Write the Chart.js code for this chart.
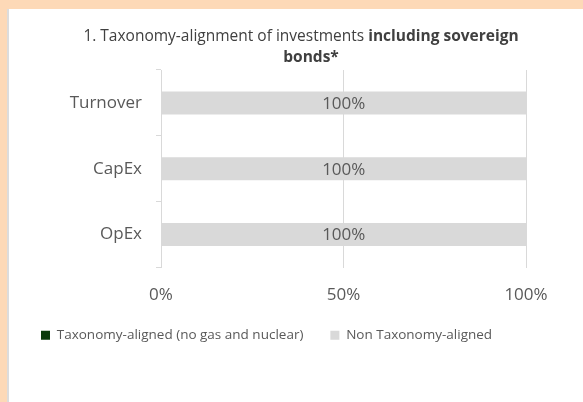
<!DOCTYPE html>
<html>
<head>
<meta charset="utf-8">
<script src="https://cdn.jsdelivr.net/npm/chart.js@4.4.0/dist/chart.umd.min.js"></script>
<style>
  html, body { margin: 0; padding: 0; }
  body { width: 583px; height: 402px; background: #fdd9b7; position: relative; overflow: hidden; }
  .panel { position: absolute; left: 7px; top: 9px; right: 0; bottom: 0; background: #fff; border-left: 2px solid #dcdcdc; }
  .wrap { position: absolute; left: 0; top: 0; width: 583px; height: 402px; }
</style>
</head>
<body>
<div class="panel"></div>
<div class="wrap"><canvas id="chart" width="583" height="402"></canvas></div>
<script>
// chart values
const categories = ["Turnover", "CapEx", "OpEx"];
const alignedValues = [0, 0, 0];
const nonAlignedValues = [100, 100, 100];
const xTicks = [0, 50, 100];
const seriesNames = ["Taxonomy-aligned (no gas and nuclear)", "Non Taxonomy-aligned"];
const titleLine1 = ["1. Taxonomy-alignment of investments ", "including sovereign"];
const titleLine2 = "bonds*";

const textGrey = "#595959";
const FONT = "'Open Sans', 'Liberation Sans', sans-serif";

// draws the two line title with the bold part
const titlePlugin = {
  id: "titleLines",
  afterDraw(chart) {
    const ctx = chart.ctx;
    ctx.save();
    ctx.fillStyle = "#404040";
    ctx.textBaseline = "middle";
    let normalFont = "15.5px " + FONT, boldFont = "bold 15.5px " + FONT;
    ctx.font = normalFont;
    let w1 = ctx.measureText(titleLine1[0]).width;
    ctx.font = boldFont;
    let w2 = ctx.measureText(titleLine1[1]).width;
    let x = 301 - (w1 + w2) / 2;
    ctx.textAlign = "left";
    ctx.font = normalFont;
    ctx.fillText(titleLine1[0], x, 37);
    ctx.font = boldFont;
    ctx.fillText(titleLine1[1], x + w1, 37);
    ctx.textAlign = "center";
    ctx.fillText(titleLine2, 311, 58);
    ctx.restore();
  }
};

// value labels inside the bars
const valueLabels = {
  id: "valueLabels",
  afterDatasetsDraw(chart) {
    const ctx = chart.ctx;
    ctx.save();
    ctx.font = "17px " + FONT;
    ctx.fillStyle = textGrey;
    ctx.textAlign = "center";
    ctx.textBaseline = "middle";
    chart.data.datasets.forEach((ds, i) => {
      chart.getDatasetMeta(i).data.forEach((bar, j) => {
        if (!ds.data[j]) return;
        let left = Math.min(bar.x, bar.base), right = Math.max(bar.x, bar.base);
        ctx.fillText(ds.data[j] + "%", (left + right) / 2, bar.y + 1);
      });
    });
    ctx.restore();
  }
};

new Chart(document.getElementById("chart"), {
  type: "bar",
  data: {
    labels: categories,
    datasets: [
      { label: seriesNames[0], data: alignedValues, backgroundColor: "#0b3a0b" },
      { label: seriesNames[1], data: nonAlignedValues, backgroundColor: "#d9d9d9" }
    ]
  },
  options: {
    indexAxis: "y",
    responsive: false,
    animation: false,
    maintainAspectRatio: false,
    layout: { padding: { left: 14, right: 57, top: 70, bottom: 50 } },
    datasets: { bar: { categoryPercentage: 1, barPercentage: 0.35 } },
    scales: {
      x: {
        stacked: true,
        min: 0, max: 100,
        afterBuildTicks: (scale) => { scale.ticks = xTicks.map(v => ({ value: v })); },
        afterFit: (scale) => { scale.height = 34; },
        grid: { color: "#d9d9d9", drawTicks: false },
        border: { display: false },
        ticks: {
          padding: 17,
          color: textGrey,
          font: { family: FONT, size: 17 },
          callback: (v) => v + "%"
        }
      },
      y: {
        stacked: true,
        afterFit: (scale) => { scale.width = 147; },
        grid: { drawOnChartArea: false, tickLength: 5, color: "#d9d9d9" },
        border: { color: "#d9d9d9" },
        ticks: {
          padding: 14,
          color: textGrey,
          font: { family: FONT, size: 17 }
        }
      }
    },
    plugins: {
      tooltip: { enabled: false },
      legend: {
        position: "bottom",
        align: "start",
        labels: {
          boxWidth: 9,
          boxHeight: 9,
          padding: 27,
          color: textGrey,
          font: { family: FONT, size: 13.5 }
        }
      }
    }
  },
  plugins: [titlePlugin, valueLabels]
});
</script>
</body>
</html>
